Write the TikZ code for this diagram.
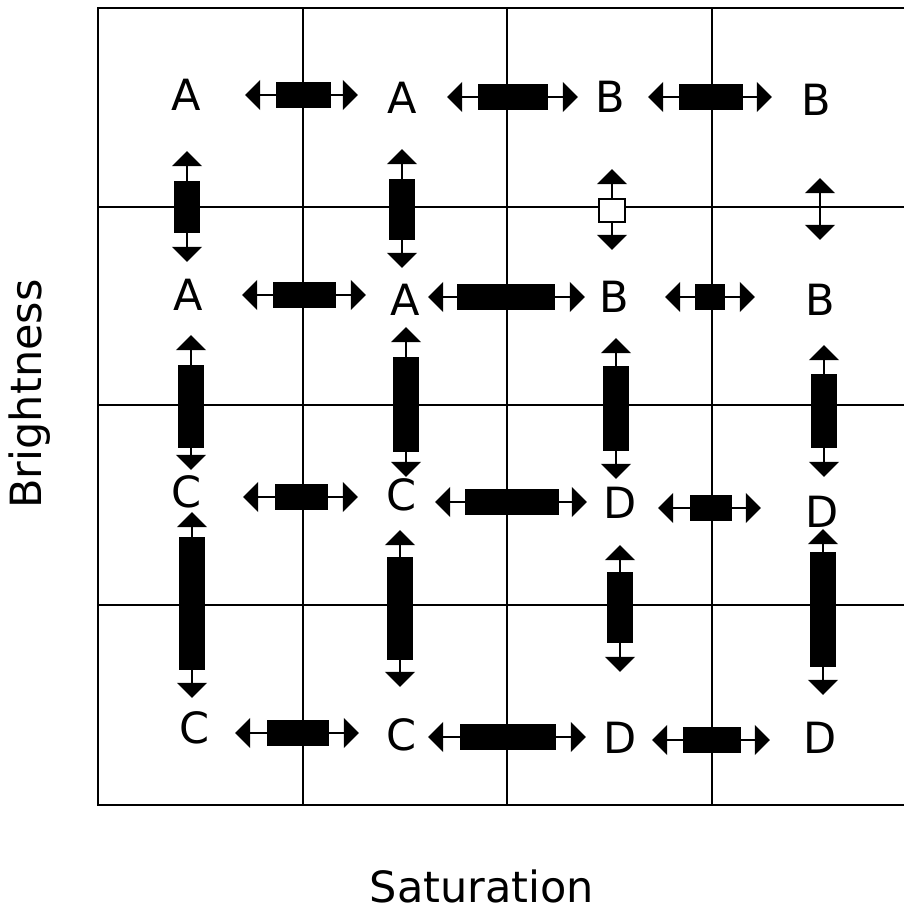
\documentclass[tikz,border=0pt]{standalone}
\usepackage{fontspec}
\setmainfont{DejaVu Sans}
\usetikzlibrary{arrows.meta}
\tikzset{
  gridline/.style = {line width=1.6pt},
  dbl/.style      = {{Triangle[length=0.38cm,width=0.74cm]}-{Triangle[length=0.38cm,width=0.74cm]},
                     line width=2pt},
  bar/.style      = {fill=black},
  letter/.style   = {font=\fontsize{30.6}{36}\selectfont, inner sep=0pt},
}
\begin{document}
\begin{tikzpicture}[x=0.025cm,y=-0.025cm]
\useasboundingbox (0,0) rectangle (904,911);
% grid, open on the right
\draw[gridline] (904,8) -- (98,8) -- (98,805) -- (904,805);
\foreach \x in {303,507,712} \draw[gridline] (\x,8) -- (\x,805);
\foreach \y in {207,405,605} \draw[gridline] (98,\y) -- (904,\y);
% letters
\foreach \n/\x/\y/\lab in {a1/186/95/A, a2/402/98/A, b1/610/97/B, b2/816/100/B,
                           a3/188/295/A, a4/405/300/A, b3/614/297/B, b4/820/300/B,
                           c1/187/492/C, c2/402/495/C, d1/620/503/D, d2/822/512/D,
                           c3/195/728/C, c4/402/735/C, d3/620/738/D, d4/820/738/D}
  \node[letter] (\n) at (\x,\y) {\lab};
% horizontal arrows: y / left tip / bar / right tip
\foreach \y/\l/\bl/\br/\r in {95/245/276/331/358, 97/447/478/548/578, 97/648/679/743/772,
                              295/242/273/336/366, 297/428/457/555/585, 297/665/695/725/755,
                              497/243/275/328/358, 502/435/465/559/587, 508/658/690/732/761,
                              733/235/267/329/359, 737/428/460/556/586, 740/652/683/741/770}{
  \draw[dbl] (\l,\y) -- (\r,\y);
  \fill[bar] (\bl,\y-13) rectangle (\br,\y+13);}
% vertical arrows: x / top tip / bar / bottom tip
\foreach \x/\t/\bt/\bb/\b in {187/151/181/233/262, 402/149/179/240/268,
                              191/335/365/448/470, 406/327/357/452/477, 616/338/366/451/479, 824/345/374/448/477,
                              192/512/537/670/698, 400/530/557/660/687, 620/545/572/643/672, 823/529/552/667/695}{
  \draw[dbl] (\x,\t) -- (\x,\b);
  \fill[bar] (\x-13,\bt) rectangle (\x+13,\bb);}
% open square and bare arrow
\draw[dbl] (612,169) -- (612,250);
\draw[line width=1.5pt,fill=white] (599,199) rectangle (625,222);
\draw[dbl] (820,178) -- (820,240);
% axis titles
\node[letter,rotate=90] (bright) at (30,394) {Brightness};
\node[letter,anchor=base] (sat) at (482,902) {Saturation};
\end{tikzpicture}
\end{document}
